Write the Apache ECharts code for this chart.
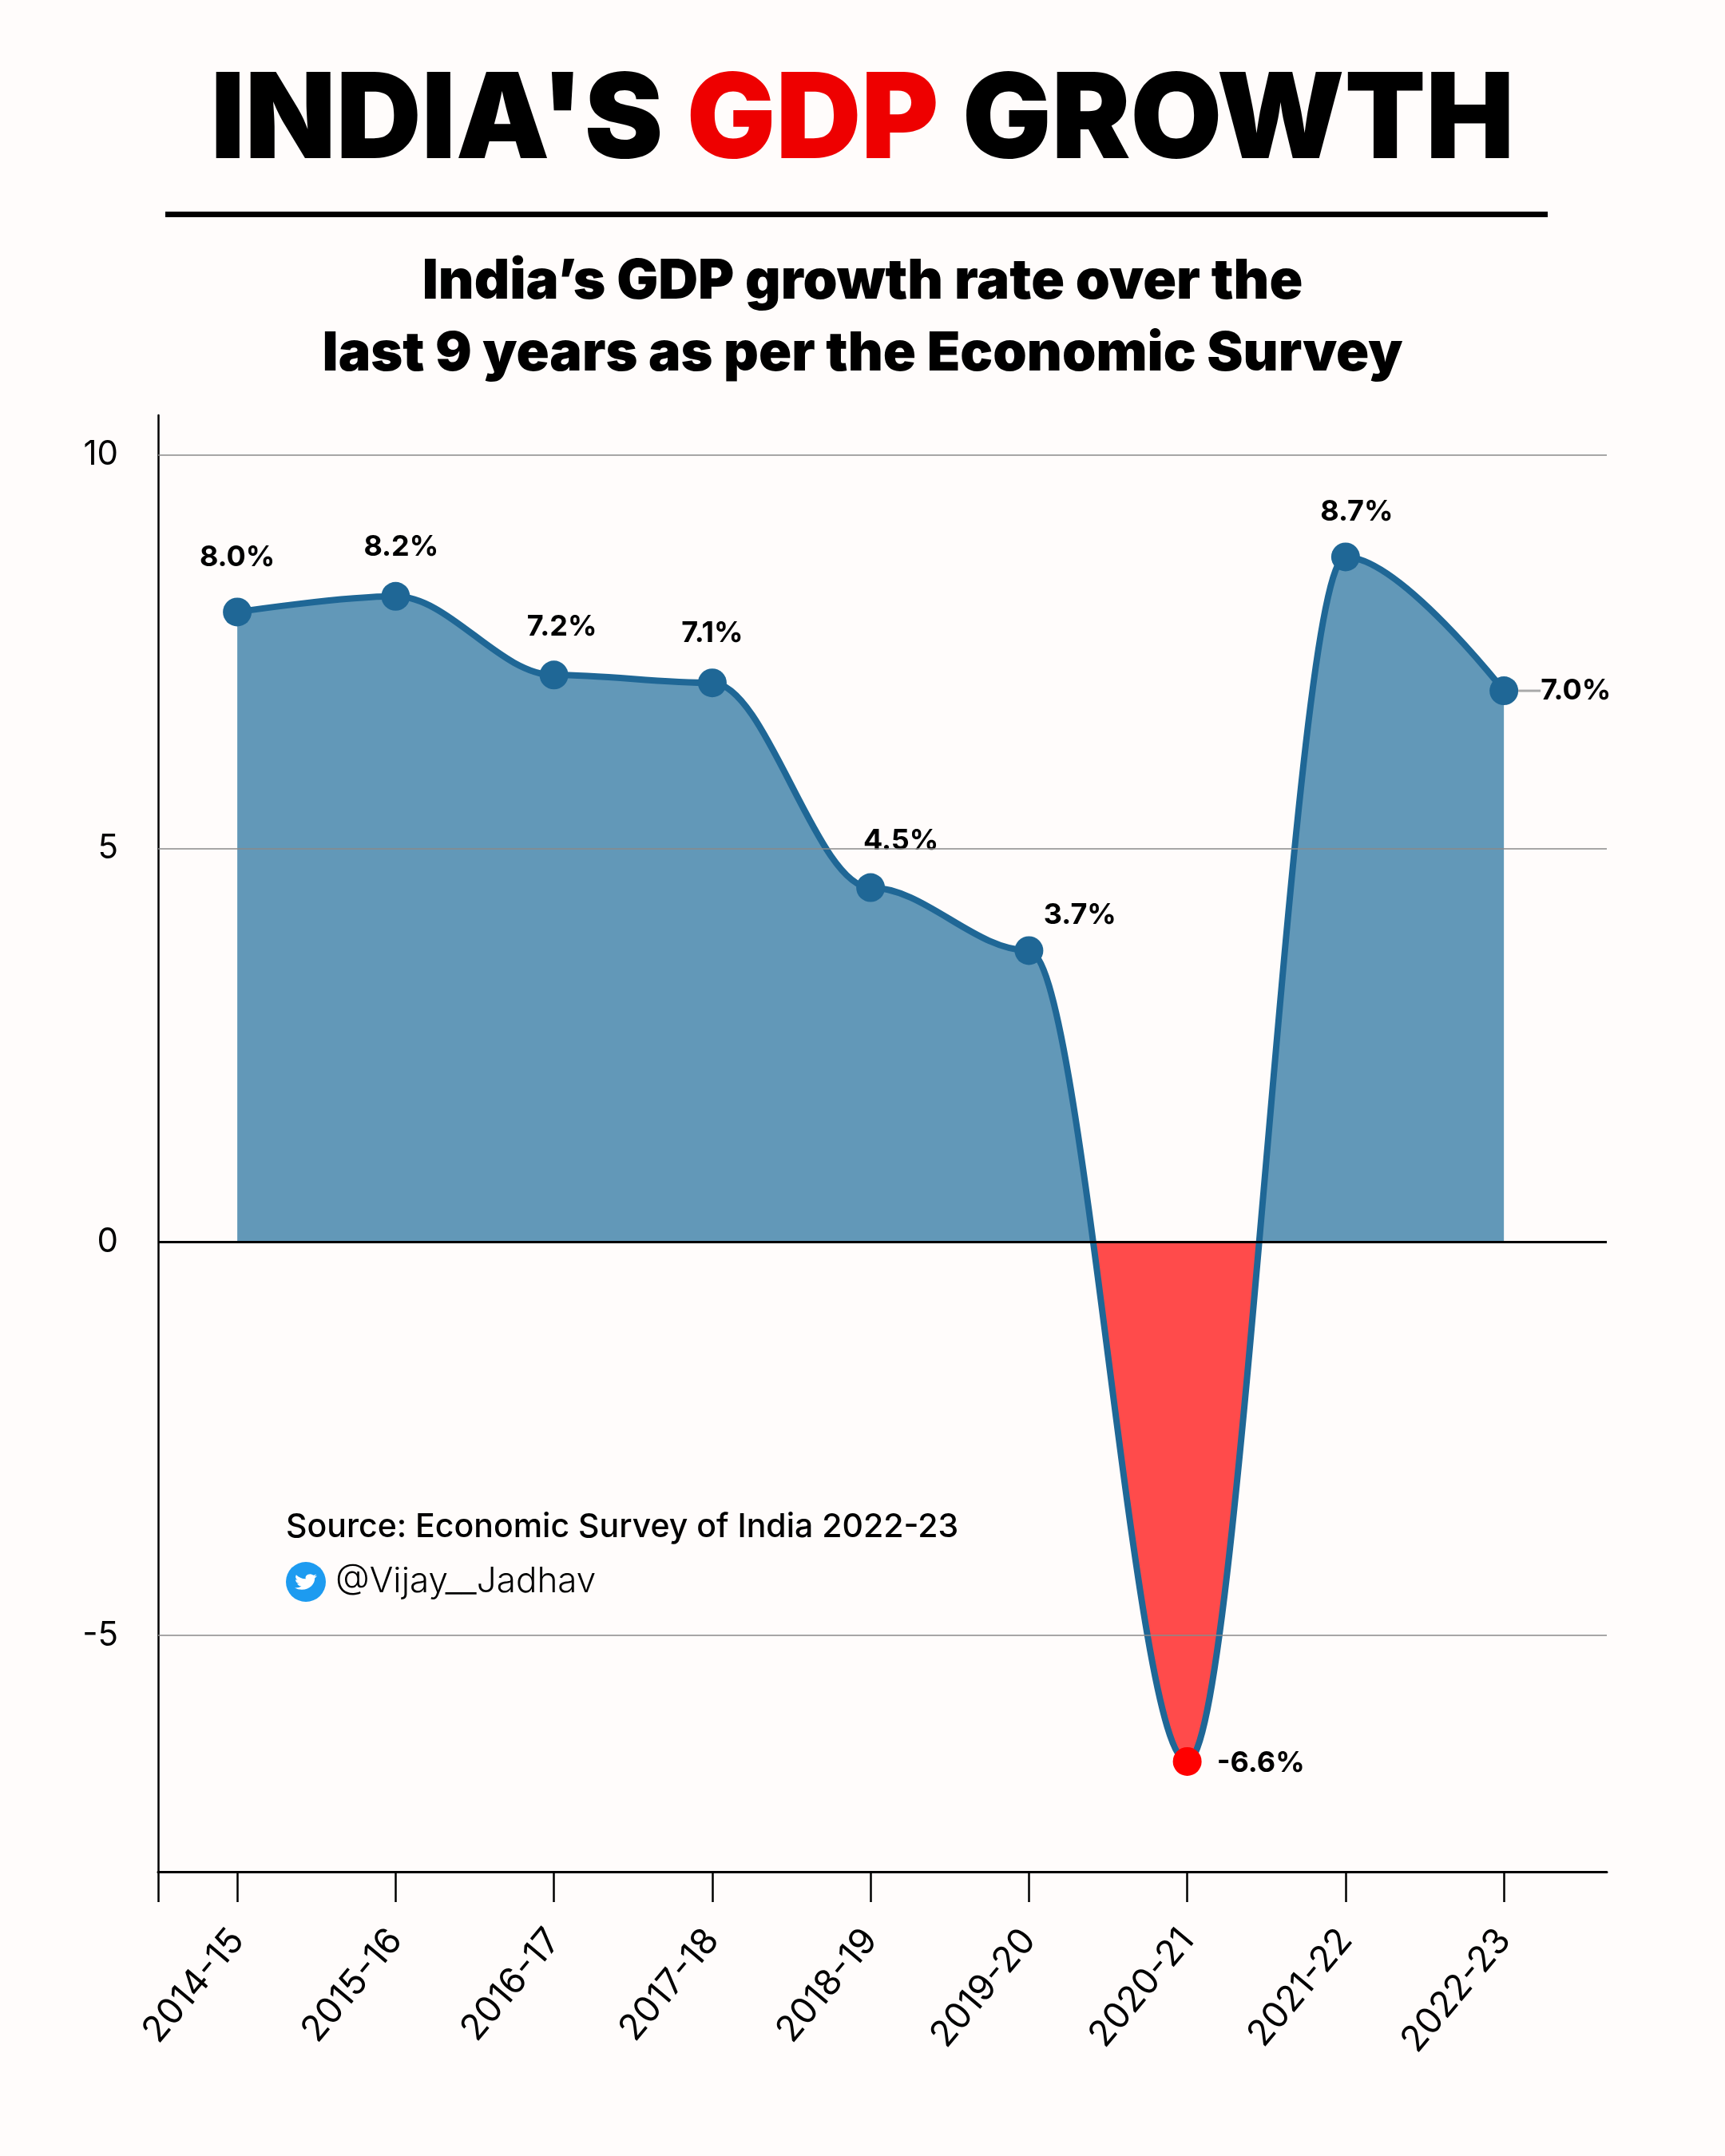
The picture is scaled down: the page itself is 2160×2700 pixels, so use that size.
<!DOCTYPE html>
<html>
<head>
<meta charset="utf-8">
<title>India's GDP Growth</title>
<script src="https://cdn.jsdelivr.net/npm/echarts@6.0.0/dist/echarts.min.js"></script>
<style>
  html, body { margin: 0; padding: 0; background: #fffcfb; }
  #chart { width: 2160px; height: 2700px; }
</style>
</head>
<body>
<div id="chart"></div>
<script>
// data
var years = ['2014-15', '2015-16', '2016-17', '2017-18', '2018-19', '2019-20', '2020-21', '2021-22', '2022-23'];
var growth = [8.0, 8.2, 7.2, 7.1, 4.5, 3.7, -6.6, 8.7, 7.0];
var yTickValues = [-5, 0, 5, 10];
var gridLevels = [-5, 5, 10];

// label placement per point (style only)
var labelPlace = [
  { position: 'top', offset: [0, -6] },
  { position: 'top', offset: [7, 0] },
  { position: 'top', offset: [10, 2] },
  { position: 'top', offset: [0, 0] },
  { position: 'top', offset: [38, 4] },
  { position: 'top', offset: [64, 18] },
  { position: 'right', offset: [-7, 2] },
  { position: 'top', offset: [14, 6] },
  { position: 'right', offset: [2, 0] }
];

var FONT = 'Inter, "Noto Sans", sans-serif';
var BLUE_LINE = '#1f6796';
var BLUE_AREA = '#6298b8';
var RED_AREA = '#ff4b4b';
var RED_DOT = '#ff0000';

// twitter bird as a small inline svg
var birdSvg = '<svg xmlns="http://www.w3.org/2000/svg" viewBox="0 0 24 24"><path fill="#ffffff" d="M23.953 4.57a10 10 0 01-2.825.775 4.958 4.958 0 002.163-2.723c-.951.555-2.005.959-3.127 1.184a4.92 4.92 0 00-8.384 4.482C7.690 8.095 4.067 6.130 1.640 3.162a4.822 4.822 0 00-.666 2.475c0 1.710.870 3.213 2.188 4.096a4.904 4.904 0 01-2.228-.616v.060a4.923 4.923 0 003.946 4.827 4.996 4.996 0 01-2.212.085 4.936 4.936 0 004.604 3.417 9.867 9.867 0 01-6.102 2.105c-.390 0-.779-.023-1.170-.067a13.995 13.995 0 007.557 2.209c9.053 0 13.998-7.496 13.998-13.985 0-.210 0-.420-.015-.630A9.935 9.935 0 0024 4.590z"/></svg>';
var birdUrl = 'data:image/svg+xml;charset=utf-8,' + encodeURIComponent(birdSvg);

var pointData = growth.map(function (v, i) {
  var item = {
    value: [i, v],
    label: { position: labelPlace[i].position, offset: labelPlace[i].offset }
  };
  if (v < 0) item.itemStyle = { color: RED_DOT };
  if (i === growth.length - 1) {
    item.labelLine = { show: true, lineStyle: { color: '#aaaaaa', width: 3 } };
  }
  return item;
});

var markLines = gridLevels.map(function (v) {
  return { yAxis: v, lineStyle: { color: '#8a8a8a', width: 1.5, type: 'solid' } };
});
markLines.push({ yAxis: 0, lineStyle: { color: '#000', width: 3, type: 'solid' } });

var chart = echarts.init(document.getElementById('chart'), null, { renderer: 'canvas' });

var option = {
  backgroundColor: '#fffcfb',
  animation: false,
  textStyle: { fontFamily: FONT },
  title: {
    text: "{a|INDIA'S }{b|GDP}{a| GROWTH}",
    left: 'center',
    top: 74,
    textStyle: {
      rich: {
        a: { fontFamily: FONT, fontSize: 148, fontWeight: 900, color: '#000' },
        b: { fontFamily: FONT, fontSize: 148, fontWeight: 900, color: '#ee0000' }
      }
    }
  },
  grid: { left: 198, top: 520, width: 1814, height: 1824, containLabel: false },
  xAxis: {
    type: 'value',
    min: -0.5,
    max: 8.65,
    axisLine: { show: true, onZero: false, lineStyle: { color: '#000', width: 3 } },
    axisTick: {
      show: true,
      length: 38,
      customValues: [-0.5, 0, 1, 2, 3, 4, 5, 6, 7, 8],
      lineStyle: { color: '#000', width: 2.5 }
    },
    axisLabel: {
      customValues: [0, 1, 2, 3, 4, 5, 6, 7, 8],
      formatter: function (v) { return years[Math.round(v)]; },
      rotate: 50,
      margin: 78,
      fontSize: 45,
      color: '#000',
      fontFamily: FONT
    },
    splitLine: { show: false }
  },
  yAxis: {
    type: 'value',
    min: -8,
    max: 10.5,
    axisLine: { show: true, onZero: false, lineStyle: { color: '#000', width: 2.5 } },
    axisTick: { show: false },
    axisLabel: {
      customValues: yTickValues,
      margin: 50,
      fontSize: 42,
      color: '#000',
      fontFamily: FONT
    },
    splitLine: { show: false }
  },
  series: [{
    type: 'line',
    data: pointData,
    smooth: 0.34,
    smoothMonotone: 'x',
    symbol: 'circle',
    symbolSize: 36,
    lineStyle: { color: BLUE_LINE, width: 8 },
    itemStyle: { color: BLUE_LINE },
    areaStyle: { color: BLUE_AREA, opacity: 1 },
    label: {
      show: true,
      distance: 26,
      fontSize: 36,
      fontWeight: 700,
      color: '#000',
      fontFamily: FONT,
      formatter: function (p) { return p.value[1].toFixed(1) + '%'; }
    },
    markLine: {
      silent: true,
      symbol: ['none', 'none'],
      label: { show: false },
      data: markLines
    },
    z: 3
  }],
  graphic: [
    { type: 'rect', shape: { x: 207, y: 265, width: 1731, height: 7 }, style: { fill: '#000' } },
    {
      type: 'text',
      style: {
        text: 'India\u2019s GDP growth rate over the', x: 1080, y: 353,
        textAlign: 'center', textVerticalAlign: 'middle',
        fontFamily: FONT, fontSize: 69, fontWeight: 900, fill: '#000'
      }
    },
    {
      type: 'text',
      style: {
        text: 'last 9 years as per the Economic Survey', x: 1080, y: 444,
        textAlign: 'center', textVerticalAlign: 'middle',
        fontFamily: FONT, fontSize: 68, fontWeight: 900, fill: '#000'
      }
    },
    {
      type: 'text',
      style: {
        text: 'Source: Economic Survey of India 2022-23', x: 358, y: 1933,
        textVerticalAlign: 'bottom',
        fontFamily: FONT, fontSize: 41, fontWeight: 500, fill: '#000'
      }
    },
    { type: 'circle', shape: { cx: 383, cy: 1981, r: 25 }, style: { fill: '#1d9bf0' } },
    { type: 'image', style: { image: birdUrl, x: 369, y: 1969, width: 28, height: 24 } },
    {
      type: 'text',
      style: {
        text: '@Vijay__Jadhav', x: 420, y: 1981,
        textVerticalAlign: 'middle',
        fontFamily: FONT, fontSize: 44, fontWeight: 300, fill: '#000'
      }
    }
  ]
};

chart.setOption(option);

// split the area fill at the zero line: blue above, red below
var zeroY = chart.convertToPixel({ gridIndex: 0 }, [0, 0])[1];
var z = zeroY / 2700;
chart.setOption({
  series: [{
    areaStyle: {
      color: new echarts.graphic.LinearGradient(0, 0, 0, 2700, [
        { offset: 0, color: BLUE_AREA },
        { offset: z, color: BLUE_AREA },
        { offset: z, color: RED_AREA },
        { offset: 1, color: RED_AREA }
      ], true),
      opacity: 1
    }
  }]
});
</script>
</body>
</html>
